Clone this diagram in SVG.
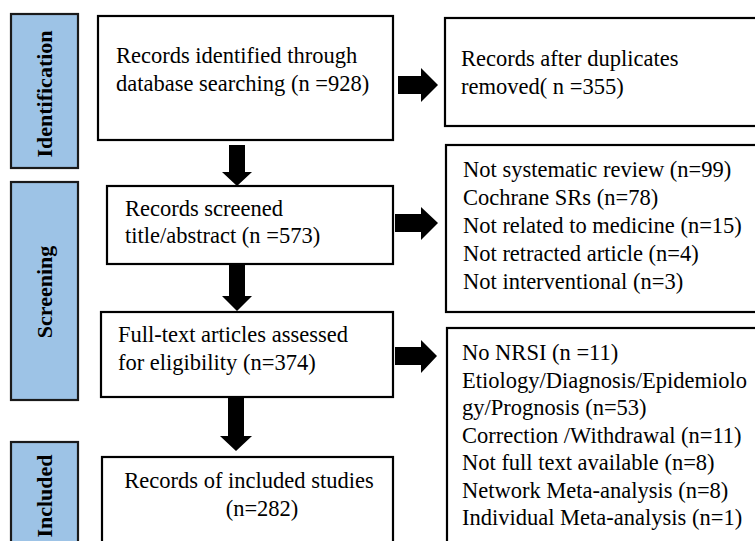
<svg xmlns="http://www.w3.org/2000/svg" width="755" height="541" viewBox="0 0 755 541">
<style>
.bg{fill:#ffffff}
.box{fill:#ffffff;stroke:#000000;stroke-width:2.2}
.bar{fill:#9dc3e6;stroke:#1a1a1a;stroke-width:2.2}
.t{font-family:"Liberation Serif","Times New Roman","DejaVu Serif",serif;font-size:22.5px;fill:#000000}
.lab{font-family:"Liberation Serif","Times New Roman","DejaVu Serif",serif;font-size:22px;font-weight:bold;fill:#000000}
.arr{fill:#000000}
</style>
<rect class="bg" x="0" y="0" width="755" height="541"/>
<g id="stage-identification">
<rect class="bar" x="11" y="14" width="67" height="154"/>
<text class="lab" transform="translate(52,94) rotate(-90)" text-anchor="middle">Identification</text>
</g>
<g id="stage-screening">
<rect class="bar" x="11" y="182" width="67" height="218"/>
<text class="lab" transform="translate(52,292) rotate(-90)" text-anchor="middle">Screening</text>
</g>
<g id="stage-included">
<rect class="bar" x="11" y="442" width="67" height="110"/>
<text class="lab" transform="translate(52,496) rotate(-90)" text-anchor="middle">Included</text>
</g>
<g id="node-identified">
<rect class="box" x="98" y="16" width="295" height="124"/>
<text class="t" x="116" y="63">Records identified through</text>
<text class="t" x="116" y="91">database searching (n =928)</text>
</g>
<g id="node-duplicates">
<rect class="box" x="445" y="18" width="315" height="108"/>
<text class="t" x="461" y="66">Records after duplicates</text>
<text class="t" x="461" y="94">removed( n =355)</text>
</g>
<g id="node-screened">
<rect class="box" x="107" y="186" width="286" height="78"/>
<text class="t" x="125" y="216">Records screened</text>
<text class="t" x="125" y="243">title/abstract (n =573)</text>
</g>
<g id="node-excluded-screening">
<rect class="box" x="446" y="145" width="314" height="167"/>
<text class="t" x="463" y="177">Not systematic review (n=99)</text>
<text class="t" x="463" y="205">Cochrane SRs (n=78)</text>
<text class="t" x="463" y="233">Not related to medicine (n=15)</text>
<text class="t" x="463" y="261">Not retracted article (n=4)</text>
<text class="t" x="463" y="289">Not interventional (n=3)</text>
</g>
<g id="node-fulltext">
<rect class="box" x="101" y="312" width="292" height="85"/>
<text class="t" x="118" y="342">Full-text articles assessed</text>
<text class="t" x="118" y="370">for eligibility (n=374)</text>
</g>
<g id="node-excluded-fulltext">
<rect class="box" x="447" y="328" width="313" height="230"/>
<text class="t" x="462" y="360">No NRSI (n =11)</text>
<text class="t" x="462" y="387.5">Etiology/Diagnosis/Epidemiolo</text>
<text class="t" x="462" y="415">gy/Prognosis (n=53)</text>
<text class="t" x="462" y="442.5">Correction /Withdrawal (n=11)</text>
<text class="t" x="462" y="470">Not full text available (n=8)</text>
<text class="t" x="462" y="497.5">Network Meta-analysis (n=8)</text>
<text class="t" x="462" y="525">Individual Meta-analysis (n=1)</text>
</g>
<g id="node-included">
<rect class="box" x="102" y="457" width="291" height="100"/>
<text class="t" x="249" y="488" text-anchor="middle">Records of included studies</text>
<text class="t" x="262" y="516" text-anchor="middle">(n=282)</text>
</g>
<g id="connectors">
<polygon class="arr" points="229,145 245,145 245,172 252,172 237,186 222,172 229,172"/>
<polygon class="arr" points="229,265 245,265 245,296 252,296 237,311 222,296 229,296"/>
<polygon class="arr" points="228,398 244,398 244,436 252,436 236,451 220,436 228,436"/>
<polygon class="arr" points="398,76 421,76 421,68 438,85 421,102 421,94 398,94"/>
<polygon class="arr" points="395,214 421,214 421,207 438,223 421,240 421,232 395,232"/>
<polygon class="arr" points="395,347 421,347 421,340 437,356 421,373 421,365 395,365"/>
</g>
</svg>
